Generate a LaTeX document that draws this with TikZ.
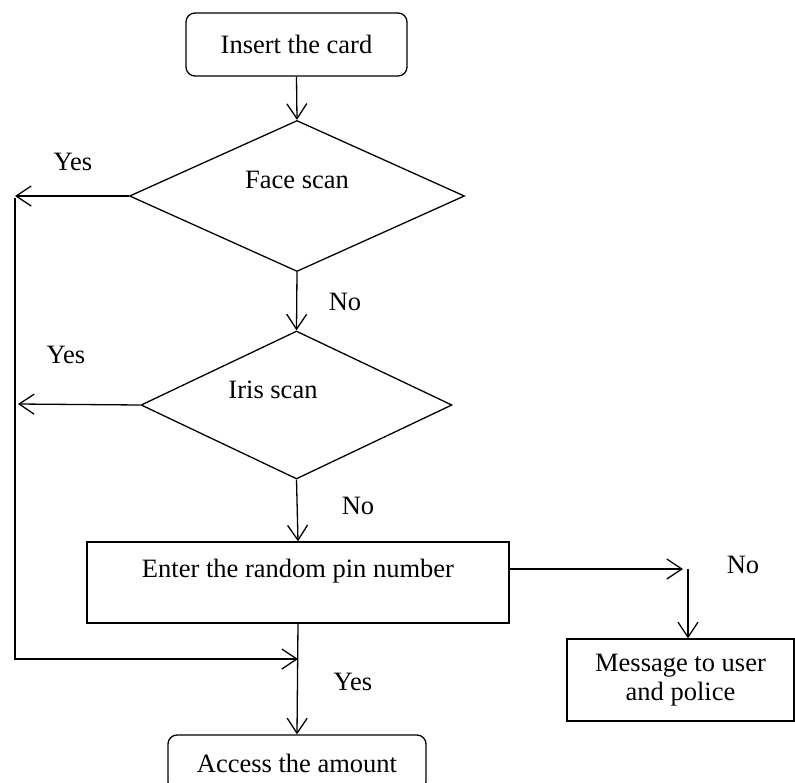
\documentclass[tikz,border=0pt]{standalone}
\usepackage{fontspec}
\setmainfont{Liberation Serif}
\usetikzlibrary{shapes.geometric,arrows.meta,positioning}

\begin{document}
\begin{tikzpicture}[x=1pt, y=-1pt, line width=1.3pt, font=\fontsize{26.5}{29}\selectfont,
  flow/.style={-{Straight Barb[length=15pt, width=20pt, line width=1.3pt]}},
  startbox/.style={rectangle, draw, rounded corners=9pt, inner sep=0pt},
  procbox/.style={rectangle, draw, inner sep=0pt},
  decision/.style={diamond, draw, inner sep=0pt, aspect=2}]
  \useasboundingbox (0,0) rectangle (795,782);
  % boxes and decisions
  \node[startbox, minimum width=221pt, minimum height=63pt] (insert) at (296.5,44.5) {Insert the card};
  \node[decision, minimum width=335pt, minimum height=151pt] (face) at (297,196) {};
  \node (facetxt) at (297,180) {Face scan};
  \node[decision, minimum width=311pt, minimum height=148pt] (iris) at (296.5,405) {};
  \node (iristxt) at (273,390) {Iris scan};
  \node[procbox, minimum width=422pt, minimum height=81pt] (pin) at (298,582.5) {};
  \node (pintxt) at (298,571) {Enter the random pin number};
  \node[procbox, minimum width=227pt, minimum height=82pt, align=center] (msg) at (680.5,680) {Message to user\\and police};
  \node[startbox, minimum width=258pt, minimum height=56pt] (access) at (297,763) {Access the amount};
  % helper points
  \coordinate (faceyes) at (15,196);
  \coordinate (irisyes) at (18,404);
  \coordinate (looptop) at (15,198);
  \coordinate (loopbot) at (15,659);
  \coordinate (msgin) at (688,569);
  % connectors
  \draw[flow] (insert.south) -- (face.north);
  \draw[flow] (face.west) -- (faceyes);
  \draw[flow] (face.south) -- (iris.north);
  \draw[flow] (iris.west) -- (irisyes);
  \draw[flow] (iris.south) -- (pin.north);
  \draw[flow] (pin.south) -- (access.north);
  \draw[flow] (looptop) -- (loopbot) -- (pin.south |- loopbot);
  \draw[flow] (pin.east |- msgin) -- ([xshift=-5pt]msgin);
  \draw[flow] (msgin) -- (msgin |- msg.north);
  % labels
  \node (yes1) at (73,162) {Yes};
  \node (yes2) at (66,355) {Yes};
  \node (no1) at (345,302) {No};
  \node (no2) at (358,506) {No};
  \node (no3) at (743,565) {No};
  \node (yes3) at (353,682) {Yes};
\end{tikzpicture}
\end{document}
